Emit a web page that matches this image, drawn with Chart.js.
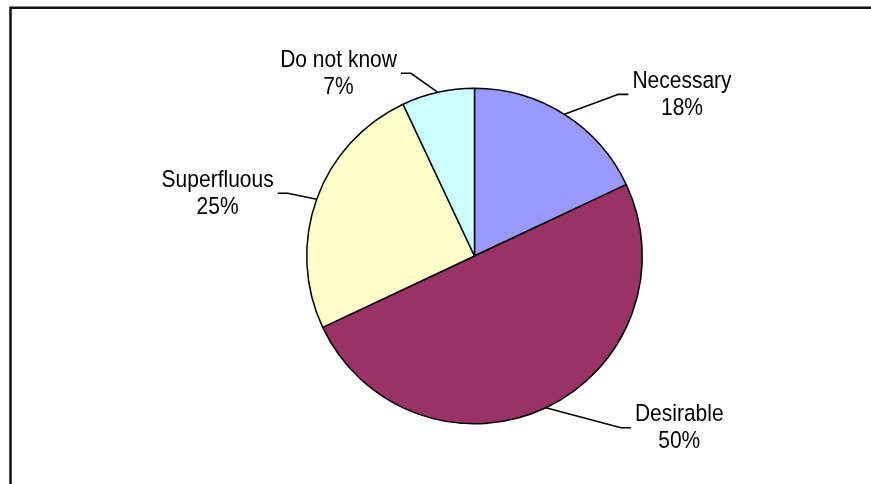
<!DOCTYPE html>
<html>
<head>
<meta charset="utf-8">
<script src="https://cdn.jsdelivr.net/npm/chart.js@4.4.0/dist/chart.umd.min.js"></script>
<style>
  html, body { margin: 0; padding: 0; background: #fff; overflow: hidden; }
  canvas { display: block; }
</style>
</head>
<body>
<canvas id="canvas" width="871" height="484"></canvas>
<script>
const categories = ['Necessary', 'Desirable', 'Superfluous', 'Do not know'];
const shares = [18, 50, 25, 7];
const sliceColors = ['#9999ff', '#993366', '#ffffcc', '#ccffff'];

// where each leader line bends, relative to the point it leaves the slice
const leaderOffsets = [[54, -20], [75, 20], [-29, -6], [-27, -19]];

// dark frame round the chart area (its right and bottom run off the page)
const framePlugin = {
    id: 'frame',
    beforeDraw(chart) {
        const ctx = chart.ctx;
        ctx.save();
        ctx.strokeStyle = '#111';
        ctx.lineWidth = 2.5;
        ctx.beginPath();
        ctx.moveTo(10.5, chart.height + 5);
        ctx.lineTo(10.5, 7.8);
        ctx.lineTo(chart.width + 5, 7.8);
        ctx.stroke();
        ctx.restore();
    }
};

// draws text a little taller than the plain font
function tallText(ctx, str, x, y) {
    ctx.save();
    ctx.translate(x, y);
    ctx.scale(1, 1.1);
    ctx.fillText(str, 0, 0);
    ctx.restore();
}

// category name + percentage outside each slice, with a bent leader line
const calloutPlugin = {
    id: 'callouts',
    afterDatasetsDraw(chart) {
        const ctx = chart.ctx;
        const arcs = chart.getDatasetMeta(0).data;
        ctx.save();
        ctx.font = '21px "Liberation Sans", Arial, sans-serif';
        ctx.fillStyle = '#000';
        ctx.strokeStyle = '#000';
        ctx.lineWidth = 1.6;
        ctx.textAlign = 'center';
        ctx.textBaseline = 'middle';
        arcs.forEach((arc, i) => {
            const mid = (arc.startAngle + arc.endAngle) / 2;
            const ex = arc.x + Math.cos(mid) * arc.outerRadius;
            const ey = arc.y + Math.sin(mid) * arc.outerRadius;
            const bx = ex + leaderOffsets[i][0];
            const by = ey + leaderOffsets[i][1];
            const dir = leaderOffsets[i][0] >= 0 ? 1 : -1;
            const tx = bx + dir * 10;
            ctx.beginPath();
            ctx.moveTo(ex, ey);
            ctx.lineTo(bx, by);
            ctx.lineTo(tx, by);
            ctx.stroke();

            const lines = [categories[i], shares[i] + '%'];
            const w = Math.max(...lines.map(s => ctx.measureText(s).width));
            const cx = tx + dir * (4 + w / 2);
            tallText(ctx, lines[0], cx, by - 13);
            tallText(ctx, lines[1], cx, by + 14);
        });
        ctx.restore();
    }
};

const data = {
    labels: categories,
    datasets: [{
        data: shares,
        backgroundColor: sliceColors,
        borderColor: '#000',
        borderWidth: 1.5
    }]
};

const config = {
    type: 'pie',
    data: data,
    options: {
        responsive: false,
        animation: false,
        layout: {
            padding: { left: 306, right: 228, top: 87, bottom: 59 }
        },
        plugins: {
            legend: { display: false },
            tooltip: { enabled: false }
        }
    },
    plugins: [framePlugin, calloutPlugin]
};

new Chart(document.getElementById('canvas'), config);
</script>
</body>
</html>
